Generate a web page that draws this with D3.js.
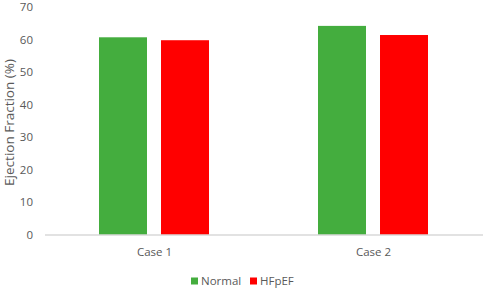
<!DOCTYPE html>
<html>
<head>
<meta charset="utf-8">
<script src="https://cdn.jsdelivr.net/npm/d3@7"></script>
<style>
  body { margin:0; background:#fff; }
  svg text { font-family:'Open Sans', sans-serif; fill:#595959; }
</style>
</head>
<body>
<div id="chart"></div>
<script>
// data
const cases = ['Case 1', 'Case 2'];
const series = ['Normal', 'HFpEF'];
const normalVals = [60.7, 64.2];
const hfpefVals = [59.8, 61.4];
const yTicks = [0, 10, 20, 30, 40, 50, 60, 70];
const colors = ['#44ad3e', '#ff0000'];

(function() {
  const W = 484, H = 288;
  const m = {top:7, right:1, bottom:53, left:45};
  const w = W - m.left - m.right, h = H - m.top - m.bottom;

  const svg = d3.select('#chart').append('svg').attr('width', W).attr('height', H);
  const g = svg.append('g').attr('transform', `translate(${m.left},${m.top})`);

  const rows = cases.map((c, i) => ({cat:c, vals:[normalVals[i], hfpefVals[i]]}));

  const x0 = d3.scaleBand().domain(cases).range([0, w]);
  const bw = x0.bandwidth();
  const x1 = d3.scaleBand().domain(series).range([54, bw - 55]).paddingInner(0.226);
  const y = d3.scaleLinear().domain([0, 70]).range([h, 0]);

  // y tick labels
  g.append('g').selectAll('text').data(yTicks).join('text')
    .attr('x', -12).attr('y', d => y(d)).attr('dy', '0.35em')
    .attr('text-anchor', 'end').style('font-size', '11.5px')
    .text(d => d);

  // bars
  g.selectAll('.grp').data(rows).join('g')
    .attr('transform', d => `translate(${x0(d.cat)},0)`)
    .selectAll('rect').data(d => d.vals.map((v, i) => ({s:series[i], v, i})))
    .join('rect')
    .attr('x', d => x1(d.s)).attr('width', x1.bandwidth())
    .attr('y', d => y(d.v)).attr('height', d => h - y(d.v))
    .attr('fill', d => colors[d.i]);

  // baseline
  g.append('line').attr('x1', 0).attr('x2', w).attr('y1', h).attr('y2', h)
    .style('stroke', '#d9d9d9').style('stroke-width', 1.5);

  // category labels
  g.selectAll('.cat').data(cases).join('text')
    .attr('x', d => x0(d) + bw / 2).attr('y', h + 17).attr('dy', '0.35em')
    .attr('text-anchor', 'middle').style('font-size', '11.5px')
    .text(d => d);

  // y axis title
  svg.append('text').attr('transform', 'rotate(-90)')
    .attr('x', -122.5).attr('y', 14)
    .attr('text-anchor', 'middle').style('font-size', '13.5px')
    .text('Ejection Fraction (%)');

  // legend
  const leg = svg.append('g').attr('transform', 'translate(191,281)');
  const items = [{s:series[0], x:0}, {s:series[1], x:59}];
  items.forEach((d, i) => {
    leg.append('rect').attr('x', d.x).attr('y', -3.5).attr('width', 7).attr('height', 7).attr('fill', colors[i]);
    leg.append('text').attr('x', d.x + 10).attr('y', 0).attr('dy', '0.35em')
      .style('font-size', '11.5px').text(d.s);
  });
})();
</script>
</body>
</html>
